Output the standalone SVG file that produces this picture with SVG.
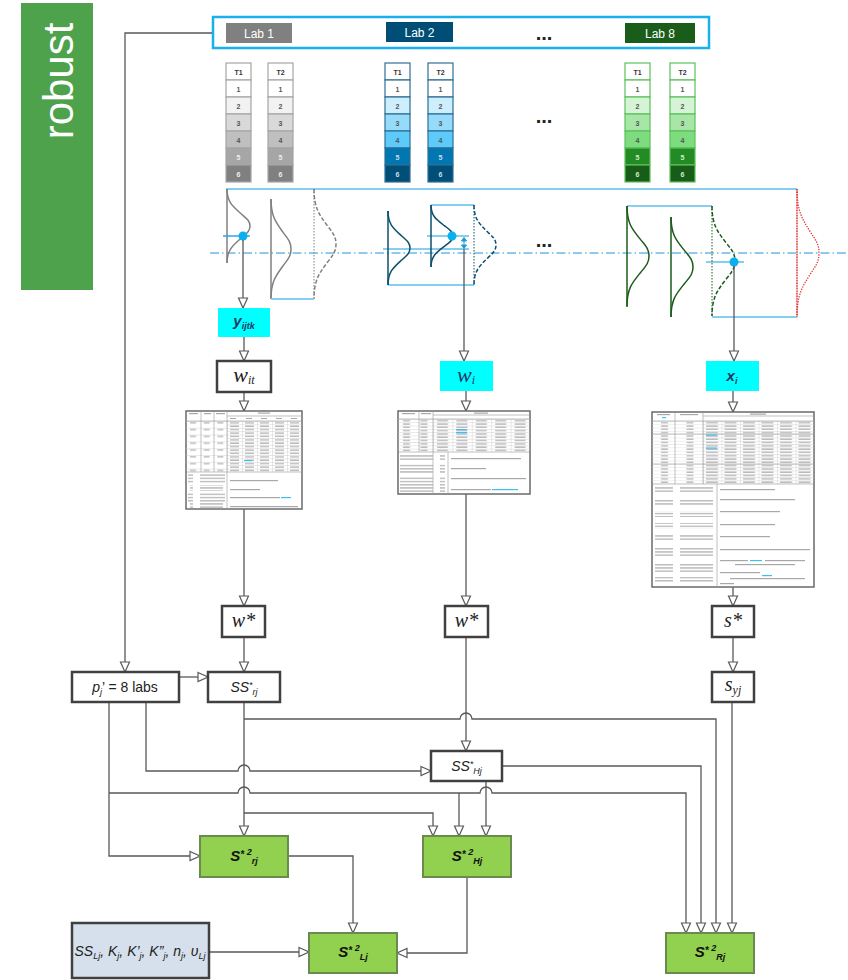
<svg xmlns="http://www.w3.org/2000/svg" xmlns:xlink="http://www.w3.org/1999/xlink" width="848" height="980" viewBox="0 0 848 980">
<style>
.c{fill:none;stroke:#595959;stroke-width:1.3}
.box{fill:#fff;stroke:#404040;stroke-width:2.5}
.gbox{fill:#92d050;stroke:#6a8a50;stroke-width:2}
.cy{fill:#00ffff}
.t{font-family:"Liberation Sans",Arial,sans-serif}
.sf{font-family:"Liberation Serif","Times New Roman",serif;font-style:italic}
.tt{font-family:"Liberation Sans",Arial,sans-serif;font-size:7px;font-weight:bold;text-anchor:middle}
.lab{font-family:"Liberation Sans",Arial,sans-serif;font-size:12px;fill:#fff;text-anchor:middle}
.bl{fill:none;stroke:#86cff0;stroke-width:2}
.tbl{fill:#fff;stroke:#6a6a6a;stroke-width:1.5}
.tg{fill:none;stroke:#999;stroke-width:0.6}
.bar{fill:#a8a8a8}
.hb{fill:#3cc0f0}
</style>
<defs>
<marker id="ah" viewBox="-1 -1 12 12" markerWidth="12" markerHeight="12" refX="10" refY="5" orient="auto" markerUnits="userSpaceOnUse">
<path d="M0,0.5 L10,5 L0,9.5 Z" fill="#fff" stroke="#595959" stroke-width="1.2"/>
</marker>
<g id="tubeG" stroke="#a6a6a6" stroke-width="1.2">
<rect x="0" y="0" width="25" height="17" fill="#fff"/>
<rect x="0" y="17" width="25" height="17" fill="#fff"/>
<rect x="0" y="34" width="25" height="17" fill="#f2f2f2"/>
<rect x="0" y="51" width="25" height="17" fill="#d9d9d9"/>
<rect x="0" y="68" width="25" height="17" fill="#bfbfbf"/>
<rect x="0" y="85" width="25" height="17" fill="#a6a6a6"/>
<rect x="0" y="102" width="25" height="17" fill="#808080"/>
<g stroke="none" class="tt" fill="#555"><text x="12.5" y="28.5">1</text><text x="12.5" y="45.5">2</text><text x="12.5" y="62.5">3</text><text x="12.5" y="79.5">4</text><text x="12.5" y="96.5" fill="#eee">5</text><text x="12.5" y="113.5" fill="#eee">6</text></g>
</g>
<g id="tubeB" stroke="#2d6f95" stroke-width="1.2">
<rect x="0" y="0" width="25" height="17" fill="#fff"/>
<rect x="0" y="17" width="25" height="17" fill="#fff"/>
<rect x="0" y="34" width="25" height="17" fill="#cdeefd"/>
<rect x="0" y="51" width="25" height="17" fill="#96dcfa"/>
<rect x="0" y="68" width="25" height="17" fill="#5ccbfa"/>
<rect x="0" y="85" width="25" height="17" fill="#0077b0"/>
<rect x="0" y="102" width="25" height="17" fill="#004f78"/>
<g stroke="none" class="tt" fill="#555"><text x="12.5" y="28.5">1</text><text x="12.5" y="45.5">2</text><text x="12.5" y="62.5">3</text><text x="12.5" y="79.5">4</text><text x="12.5" y="96.5" fill="#cde">5</text><text x="12.5" y="113.5" fill="#cde">6</text></g>
</g>
<g id="tubeN" stroke="#5cc05c" stroke-width="1.2">
<rect x="0" y="0" width="25" height="17" fill="#fff"/>
<rect x="0" y="17" width="25" height="17" fill="#fff"/>
<rect x="0" y="34" width="25" height="17" fill="#d5f3d5"/>
<rect x="0" y="51" width="25" height="17" fill="#a8e6a8"/>
<rect x="0" y="68" width="25" height="17" fill="#7ddc7d"/>
<rect x="0" y="85" width="25" height="17" fill="#238b23"/>
<rect x="0" y="102" width="25" height="17" fill="#175c17"/>
<g stroke="none" class="tt" fill="#555"><text x="12.5" y="28.5">1</text><text x="12.5" y="45.5">2</text><text x="12.5" y="62.5">3</text><text x="12.5" y="79.5">4</text><text x="12.5" y="96.5" fill="#cec">5</text><text x="12.5" y="113.5" fill="#cec">6</text></g>
</g>
<pattern id="p1" x="227" y="421" width="15" height="3.4" patternUnits="userSpaceOnUse"><rect width="15" height="0.4" fill="#c8c8c8"/><rect width="0.4" height="3.4" fill="#c8c8c8"/><rect x="3" y="1.3" width="9" height="1.1" fill="#a8a8a8"/></pattern>
<pattern id="p1b" x="186" y="421" width="13.7" height="6.8" patternUnits="userSpaceOnUse"><rect width="13.7" height="0.4" fill="#c8c8c8"/><rect x="4" y="1.3" width="6" height="1.1" fill="#a8a8a8"/></pattern>
<pattern id="p2" x="433" y="419" width="19.4" height="3.3" patternUnits="userSpaceOnUse"><rect width="19.4" height="0.4" fill="#c8c8c8"/><rect width="0.4" height="3.3" fill="#c8c8c8"/><rect x="4" y="1.2" width="11" height="1.1" fill="#a8a8a8"/></pattern>
<pattern id="p2b" x="398" y="419" width="17.5" height="3.3" patternUnits="userSpaceOnUse"><rect width="17.5" height="0.4" fill="#c8c8c8"/><rect x="5" y="1.2" width="7" height="1.1" fill="#a8a8a8"/></pattern>
<pattern id="p3" x="703" y="421" width="18.5" height="3.3" patternUnits="userSpaceOnUse"><rect width="18.5" height="0.4" fill="#c8c8c8"/><rect width="0.4" height="3.3" fill="#c8c8c8"/><rect x="3" y="1.2" width="12" height="1.1" fill="#a8a8a8"/></pattern>
<pattern id="p3b" x="652" y="421" width="25.5" height="3.3" patternUnits="userSpaceOnUse"><rect width="25.5" height="0.4" fill="#d8d8d8"/><rect x="9" y="1.2" width="7" height="1.1" fill="#a8a8a8"/></pattern>
<pattern id="pl" x="0" y="0" width="40" height="3.2" patternUnits="userSpaceOnUse"><rect x="0" y="1" width="33" height="1.1" fill="#a8a8a8"/></pattern>
</defs>

<rect width="848" height="980" fill="#fff"/>

<g id="robust">
<rect x="21" y="3" width="72" height="287" fill="#4ea24c"/>
<text class="t" transform="translate(73,81) rotate(-90)" text-anchor="middle" font-size="42" fill="#fff">robust</text>
</g>

<g id="labs">
<rect x="213" y="17" width="496" height="31" fill="#fff" stroke="#1ab0ee" stroke-width="2.5"/>
<rect x="226" y="23" width="66" height="20" fill="#808080"/>
<text class="lab" x="259" y="37.5">Lab 1</text>
<rect x="386" y="22" width="67" height="20" fill="#004e75"/>
<text class="lab" x="419.5" y="36.5">Lab 2</text>
<text class="t" x="544" y="40" font-size="20" font-weight="bold" text-anchor="middle" fill="#222">...</text>
<rect x="625" y="23" width="70" height="20" fill="#1a5c1a"/>
<text class="lab" x="660" y="37.5">Lab 8</text>
</g>

<g id="tubes">
<use xlink:href="#tubeG" x="226" y="63"/>
<use xlink:href="#tubeG" x="268" y="63"/>
<use xlink:href="#tubeB" x="385" y="63"/>
<use xlink:href="#tubeB" x="428" y="63"/>
<use xlink:href="#tubeN" x="625" y="63"/>
<use xlink:href="#tubeN" x="670" y="63"/>
<g class="tt" fill="#333">
<text x="238.5" y="75">T1</text><text x="280.5" y="75">T2</text>
<text x="397.5" y="75">T1</text><text x="440.5" y="75">T2</text>
<text x="637.5" y="75">T1</text><text x="682.5" y="75">T2</text>
</g>
<text class="t" x="544" y="123" font-size="20" font-weight="bold" text-anchor="middle" fill="#222">...</text>
</g>

<g id="distributions">
<line x1="226" y1="189" x2="797" y2="189" class="bl"/>
<line x1="210" y1="253" x2="848" y2="253" stroke="#2196d6" stroke-width="1" stroke-dasharray="9,3,1.5,3"/>
<!-- lab 1 -->
<g fill="none" stroke="#808080" stroke-width="1.5">
<line x1="227" y1="189" x2="227" y2="263"/>
<path d="M227,189 C227,202 232.6,206.3 241,213.7 C246,218.1 250,220.5 250,226 C250,231.5 246,233.9 241,238.3 C232.6,245.7 227,250 227,263"/>
<line x1="271" y1="199" x2="271" y2="299"/>
<path d="M271,199 C271,216.5 275.9,222.4 283.1,232.4 C287.5,238.4 291,241.5 291,249 C291,256.5 287.5,259.7 283.1,265.7 C275.9,275.7 271,281.5 271,299"/>
<line x1="314" y1="189" x2="314" y2="299" stroke-dasharray="1.5,1.5" stroke-width="1"/>
<path d="M314,189 C314,208 319.3,214.7 327.4,225.7 C332.2,232.3 336,235.8 336,244 C336,252.3 332.2,255.7 327.4,262.3 C319.3,273.3 314,280 314,299" stroke-dasharray="4,2"/>
</g>
<line x1="271" y1="299" x2="314" y2="299" class="bl"/>
<line x1="223" y1="236" x2="250" y2="236" stroke="#29a8e0" stroke-width="1.5"/>
<!-- lab 2 -->
<path d="M431,205 H474 M388,285 H474" class="bl" stroke="#3aa8e0"/>
<line x1="383" y1="249" x2="469" y2="249" class="bl"/>
<line x1="427" y1="236" x2="469" y2="236" class="bl"/>
<g fill="none" stroke="#0d4f6e" stroke-width="1.5">
<line x1="388" y1="211" x2="388" y2="285"/>
<path d="M388,211 C388,224 393.3,228.3 401.4,235.7 C406.2,240.1 410,242.5 410,248 C410,253.5 406.2,255.9 401.4,260.3 C393.3,267.7 388,272 388,285"/>
<line x1="431" y1="205" x2="431" y2="267"/>
<path d="M431,205 C431,215.9 436.3,219.5 444.4,225.7 C449.2,229.4 453,231.4 453,236 C453,240.7 449.2,242.6 444.4,246.3 C436.3,252.5 431,256.2 431,267"/>
<line x1="474" y1="205" x2="474" y2="285" stroke-dasharray="1.5,1.5" stroke-width="1"/>
<path d="M474,205 C474,219 479.3,223.7 487.4,231.7 C492.2,236.5 496,239 496,245 C496,251 492.2,253.5 487.4,258.3 C479.3,266.3 474,271 474,285" stroke-dasharray="4,2"/>
</g>
<g stroke="#1e9ad6" stroke-width="1" fill="#1e9ad6">
<line x1="464" y1="238" x2="464" y2="248"/>
<path d="M461.5,241 L464,237.5 L466.5,241 Z M461.5,245 L464,248.5 L466.5,245 Z"/>
</g>
<!-- lab 8 -->
<path d="M627,206 H712 M712,317 H797" class="bl" stroke="#3aa8e0"/>
<line x1="706" y1="262" x2="744" y2="262" class="bl"/>
<g fill="none" stroke="#1a5c1a" stroke-width="1.5">
<line x1="627" y1="206" x2="627" y2="307"/>
<path d="M627,206 C627,223.5 632.3,229.4 640.4,239.4 C645.2,245.4 649,248.5 649,256 C649,263.5 645.2,266.7 640.4,272.7 C632.3,282.7 627,288.5 627,306"/>
<line x1="671" y1="217" x2="671" y2="317"/>
<path d="M671,217 C671,234.5 676.3,240.4 684.4,250.4 C689.2,256.4 693,259.5 693,267 C693,274.5 689.2,277.7 684.4,283.7 C676.3,293.7 671,299.5 671,317"/>
<line x1="712" y1="206" x2="712" y2="317" stroke-dasharray="1.5,1.5" stroke-width="1"/>
<path d="M712,206 C712,225 717.6,231.7 726,242.7 C731,249.3 735,252.8 735,261 C735,269.3 731,272.7 726,279.3 C717.6,290.3 712,297 712,316" stroke-dasharray="4,2"/>
</g>
<line x1="797" y1="189" x2="797" y2="317" stroke="#f4b8b8" stroke-width="1.5"/>
<g fill="none" stroke="#e03030" stroke-width="1.3" stroke-dasharray="1.3,1.3">
<line x1="797" y1="189" x2="797" y2="317"/>
<path d="M797,189 C797,211.4 802.3,219.2 810.4,232 C815.2,239.6 819,243.4 819,253 C819,262.6 815.2,266.4 810.4,274 C802.3,286.8 797,294.6 797,317"/>
</g>
<g fill="#0aaff0">
<circle cx="243" cy="236" r="4.5"/>
<circle cx="452" cy="236" r="4.5"/>
<circle cx="734" cy="262" r="4.5"/>
</g>
<text class="t" x="544" y="247" font-size="20" font-weight="bold" text-anchor="middle" fill="#222">...</text>
</g>

<g id="connectors">
<path class="c" d="M212,33 H125 V672" marker-end="url(#ah)"/>
<path class="c" d="M243,240 V308" marker-end="url(#ah)"/>
<path class="c" d="M244,337 V361" marker-end="url(#ah)"/>
<path class="c" d="M244,392 V411" marker-end="url(#ah)"/>
<path class="c" d="M244,509 V606" marker-end="url(#ah)"/>
<path class="c" d="M244,637 V672" marker-end="url(#ah)"/>
<path class="c" d="M464,249 V361" marker-end="url(#ah)"/>
<path class="c" d="M466,391 V411" marker-end="url(#ah)"/>
<path class="c" d="M466,494 V606" marker-end="url(#ah)"/>
<path class="c" d="M466,637 V751" marker-end="url(#ah)"/>
<path class="c" d="M734,266 V361" marker-end="url(#ah)"/>
<path class="c" d="M733,391 V412" marker-end="url(#ah)"/>
<path class="c" d="M733,587 V606" marker-end="url(#ah)"/>
<path class="c" d="M733,637 V672" marker-end="url(#ah)"/>
<path class="c" d="M179,677 H208" marker-end="url(#ah)"/>
<path class="c" d="M244,702 V836" marker-end="url(#ah)"/>
<path class="c" d="M244,719 H460 A6,6 0 0 1 472,719 H716 V933" marker-end="url(#ah)"/>
<path class="c" d="M244,813 H433 V836" marker-end="url(#ah)"/>
<path class="c" d="M146,702 V771 H238 A6,6 0 0 1 250,771 H431" marker-end="url(#ah)"/>
<path class="c" d="M109,702 V856 H200" marker-end="url(#ah)"/>
<path class="c" d="M109,793 H238 A6,6 0 0 1 250,793 H480 A6,6 0 0 1 492,793 H686 V933" marker-end="url(#ah)"/>
<path class="c" d="M459,793 V836" marker-end="url(#ah)"/>
<path class="c" d="M486,781 V836" marker-end="url(#ah)"/>
<path class="c" d="M502,766 H701 V933" marker-end="url(#ah)"/>
<path class="c" d="M732,702 V933" marker-end="url(#ah)"/>
<path class="c" d="M288,856 H353 V933" marker-end="url(#ah)"/>
<path class="c" d="M209,952 H309" marker-end="url(#ah)"/>
<path class="c" d="M467,877 V953 H397" marker-end="url(#ah)"/>
</g>

<g id="y_ijtk">
<rect class="cy" x="218" y="308" width="52" height="29"/>
<text class="t" x="244" y="326" text-anchor="middle" font-size="15" font-weight="bold" font-style="italic" fill="#1f3864">y<tspan font-size="9" dy="3">ijtk</tspan></text>
</g>
<g id="w_it">
<rect class="box" x="217" y="361" width="54" height="31"/>
<text class="sf" x="244" y="382" text-anchor="middle" font-size="22" fill="#222">w<tspan font-size="12" dy="2">it</tspan></text>
</g>
<g id="w_i">
<rect class="cy" x="440" y="361" width="53" height="30"/>
<text class="sf" x="466" y="382" text-anchor="middle" font-size="22" fill="#1f3864">w<tspan font-size="12" dy="2">i</tspan></text>
</g>
<g id="x_i">
<rect class="cy" x="706" y="361" width="53" height="30"/>
<text class="t" x="732" y="381" text-anchor="middle" font-size="15" font-weight="bold" font-style="italic" fill="#1f3864">x<tspan font-size="9" dy="3">i</tspan></text>
</g>

<g id="table1">
<rect class="tbl" x="186" y="411" width="116" height="98"/>
<rect x="227" y="421" width="75" height="51" fill="url(#p1)"/>
<rect x="186" y="421" width="41" height="51" fill="url(#p1b)"/>
<path class="tg" d="M186,421H302 M227,416H302 M201,411V472 M214,411V472 M227,411V509 M186,472H302"/>
<rect class="bar" x="189" y="413" width="9" height="1.2"/><rect class="bar" x="204" y="413" width="7" height="1.2"/><rect class="bar" x="216" y="413" width="9" height="1.2"/><rect class="bar" x="258" y="412.5" width="12" height="1.2"/>
<rect class="bar" x="230" y="418" width="6" height="1"/><rect class="bar" x="246" y="418" width="6" height="1"/><rect class="bar" x="261" y="418" width="6" height="1"/><rect class="bar" x="276" y="418" width="6" height="1"/><rect class="bar" x="291" y="418" width="6" height="1"/>
<rect class="hb" x="244" y="460" width="8" height="1.2"/>
<rect x="188" y="474" width="37" height="9" fill="url(#pl)"/>
<rect x="190" y="485" width="33" height="6" fill="url(#pl)"/>
<rect x="188" y="493" width="37" height="9" fill="url(#pl)"/>
<rect x="190" y="503" width="33" height="5" fill="url(#pl)"/>
<rect class="bar" x="230" y="480" width="48" height="1.2"/>
<rect class="bar" x="230" y="489" width="30" height="1.2"/>
<rect class="bar" x="230" y="497" width="50" height="1.2"/><rect class="hb" x="281" y="497" width="10" height="1.2"/>
<rect class="bar" x="230" y="506" width="68" height="1.2"/>
</g>

<g id="table2">
<rect class="tbl" x="398" y="411" width="132" height="83"/>
<rect x="433" y="419" width="97" height="33" fill="url(#p2)"/>
<rect x="398" y="419" width="35" height="33" fill="url(#p2b)"/>
<path class="tg" d="M398,419H530 M433,415H530 M419,411V452 M433,411V494 M448,452V494 M398,452H530"/>
<rect class="bar" x="402" y="413" width="13" height="1.2"/><rect class="bar" x="421" y="413" width="10" height="1.2"/><rect class="bar" x="474" y="412.5" width="14" height="1.2"/>
<rect class="hb" x="456" y="429" width="11" height="1.2"/><rect class="hb" x="456" y="432" width="11" height="1.2"/>
<rect x="400" y="454" width="45" height="7" fill="url(#pl)"/>
<rect x="400" y="464" width="45" height="10" fill="url(#pl)"/>
<rect x="400" y="476" width="45" height="7" fill="url(#pl)"/>
<rect x="400" y="484" width="45" height="9" fill="url(#pl)"/>
<rect class="bar" x="451" y="458" width="70" height="1.2"/>
<rect class="bar" x="451" y="468" width="35" height="1.2"/>
<rect class="bar" x="451" y="478" width="75" height="1.2"/>
<rect class="bar" x="451" y="489" width="40" height="1.2"/><rect class="hb" x="492" y="489" width="26" height="1.2"/>
</g>

<g id="table3">
<rect class="tbl" x="652" y="412" width="162" height="175"/>
<rect x="703" y="421" width="111" height="63" fill="url(#p3)"/>
<rect x="652" y="421" width="51" height="63" fill="url(#p3b)"/>
<path class="tg" d="M652,421H814 M703,416H814 M675,412V484 M703,412V484 M717,484V587 M652,484H814 M652,434H814 M652,464H814"/>
<rect class="bar" x="657" y="414" width="13" height="1.2"/><rect class="hb" x="662" y="417" width="4" height="1.2"/><rect class="bar" x="680" y="414" width="18" height="1.2"/><rect class="bar" x="750" y="413.5" width="16" height="1.2"/>
<rect class="hb" x="706" y="434.5" width="11" height="1.2"/><rect class="hb" x="706" y="447.5" width="11" height="1.2"/>
<rect x="655" y="487" width="60" height="6" fill="url(#pl)"/>
<rect x="655" y="499" width="60" height="6" fill="url(#pl)"/>
<rect x="655" y="511" width="60" height="6" fill="url(#pl)"/>
<rect x="655" y="523" width="60" height="6" fill="url(#pl)"/>
<rect x="655" y="535" width="60" height="6" fill="url(#pl)"/>
<rect x="655" y="547" width="60" height="9" fill="url(#pl)"/>
<rect x="655" y="563" width="60" height="9" fill="url(#pl)"/>
<rect x="655" y="577" width="60" height="6" fill="url(#pl)"/>
<rect class="bar" x="720" y="489" width="55" height="1.2"/>
<rect class="bar" x="720" y="499" width="75" height="1.2"/>
<rect class="bar" x="720" y="511" width="60" height="1.2"/>
<rect class="bar" x="720" y="524" width="55" height="1.2"/>
<rect class="bar" x="720" y="536" width="50" height="1.2"/>
<rect class="bar" x="720" y="549" width="90" height="1.2"/>
<rect class="bar" x="720" y="560" width="28" height="1.2"/><rect class="hb" x="750" y="560" width="12" height="1.2"/><rect class="bar" x="765" y="560" width="40" height="1.2"/>
<rect class="bar" x="735" y="564" width="60" height="1.2"/>
<rect class="bar" x="720" y="572" width="40" height="1.2"/><rect class="hb" x="762" y="575" width="10" height="1.2"/><rect class="bar" x="730" y="578" width="75" height="1.2"/>
<rect class="bar" x="720" y="583" width="14" height="1.2"/>
</g>

<g id="wstar1">
<rect class="box" x="222" y="606" width="43" height="31"/>
<text class="sf" x="243.5" y="627" text-anchor="middle" font-size="20" fill="#222">w*</text>
</g>
<g id="wstar2">
<rect class="box" x="445" y="606" width="43" height="31"/>
<text class="sf" x="466.5" y="627" text-anchor="middle" font-size="20" fill="#222">w*</text>
</g>
<g id="sstar">
<rect class="box" x="712" y="606" width="42" height="31"/>
<text class="sf" x="733" y="627" text-anchor="middle" font-size="20" fill="#222">s*</text>
</g>
<g id="pj">
<rect class="box" x="72" y="672" width="107" height="30"/>
<text class="t" x="125" y="692" text-anchor="middle" font-size="14" fill="#222"><tspan font-style="italic">p</tspan><tspan font-style="italic" font-size="9" dy="3">j</tspan><tspan dy="-3">’ = 8 labs</tspan></text>
</g>
<g id="SSrj">
<rect class="box" x="208" y="672" width="72" height="30"/>
<text class="t" x="244" y="692" text-anchor="middle" font-size="14" font-style="italic" fill="#222">SS<tspan font-size="9" dy="-4">*</tspan><tspan font-size="9" dy="7">rj</tspan></text>
</g>
<g id="syj">
<rect class="box" x="712" y="672" width="42" height="30"/>
<text class="sf" x="733" y="691" text-anchor="middle" font-size="20" fill="#222">s<tspan font-size="12" dy="3">yj</tspan></text>
</g>
<g id="SSHj">
<rect class="box" x="431" y="751" width="71" height="30"/>
<text class="t" x="466.5" y="771" text-anchor="middle" font-size="14" font-style="italic" fill="#222">SS<tspan font-size="9" dy="-4">*</tspan><tspan font-size="9" dy="7">Hj</tspan></text>
</g>
<g id="S2rj">
<rect class="gbox" x="200" y="836" width="88" height="41"/>
<text class="t" x="244" y="861" text-anchor="middle" font-size="15" font-weight="bold" font-style="italic" fill="#111">S<tspan font-size="10" dy="-3">*</tspan><tspan font-size="9" dy="-3"> 2</tspan><tspan font-size="9" dy="9">rj</tspan></text>
</g>
<g id="S2Hj">
<rect class="gbox" x="423" y="836" width="88" height="41"/>
<text class="t" x="467" y="861" text-anchor="middle" font-size="15" font-weight="bold" font-style="italic" fill="#111">S<tspan font-size="10" dy="-3">*</tspan><tspan font-size="9" dy="-3"> 2</tspan><tspan font-size="9" dy="9">Hj</tspan></text>
</g>
<g id="SSLj">
<rect x="72" y="923" width="137" height="55" fill="#d6e0ec" stroke="#404040" stroke-width="2.5"/>
<text class="t" x="140" y="956" text-anchor="middle" font-size="14" font-style="italic" fill="#222">SS<tspan font-size="9" dy="3">Lj</tspan><tspan dy="-3">, K</tspan><tspan font-size="9" dy="3">j</tspan><tspan dy="-3">, K’</tspan><tspan font-size="9" dy="3">j</tspan><tspan dy="-3">, K”</tspan><tspan font-size="9" dy="3">j</tspan><tspan dy="-3">, n</tspan><tspan font-size="9" dy="3">j</tspan><tspan dy="-3">, υ</tspan><tspan font-size="9" dy="3">Lj</tspan></text>
</g>
<g id="S2Lj">
<rect class="gbox" x="309" y="933" width="88" height="40"/>
<text class="t" x="353" y="957" text-anchor="middle" font-size="15" font-weight="bold" font-style="italic" fill="#111">S<tspan font-size="10" dy="-3">*</tspan><tspan font-size="9" dy="-3"> 2</tspan><tspan font-size="9" dy="9">Lj</tspan></text>
</g>
<g id="S2Rj">
<rect class="gbox" x="666" y="933" width="88" height="40"/>
<text class="t" x="710" y="957" text-anchor="middle" font-size="15" font-weight="bold" font-style="italic" fill="#111">S<tspan font-size="10" dy="-3">*</tspan><tspan font-size="9" dy="-3"> 2</tspan><tspan font-size="9" dy="9">Rj</tspan></text>
</g>
</svg>
